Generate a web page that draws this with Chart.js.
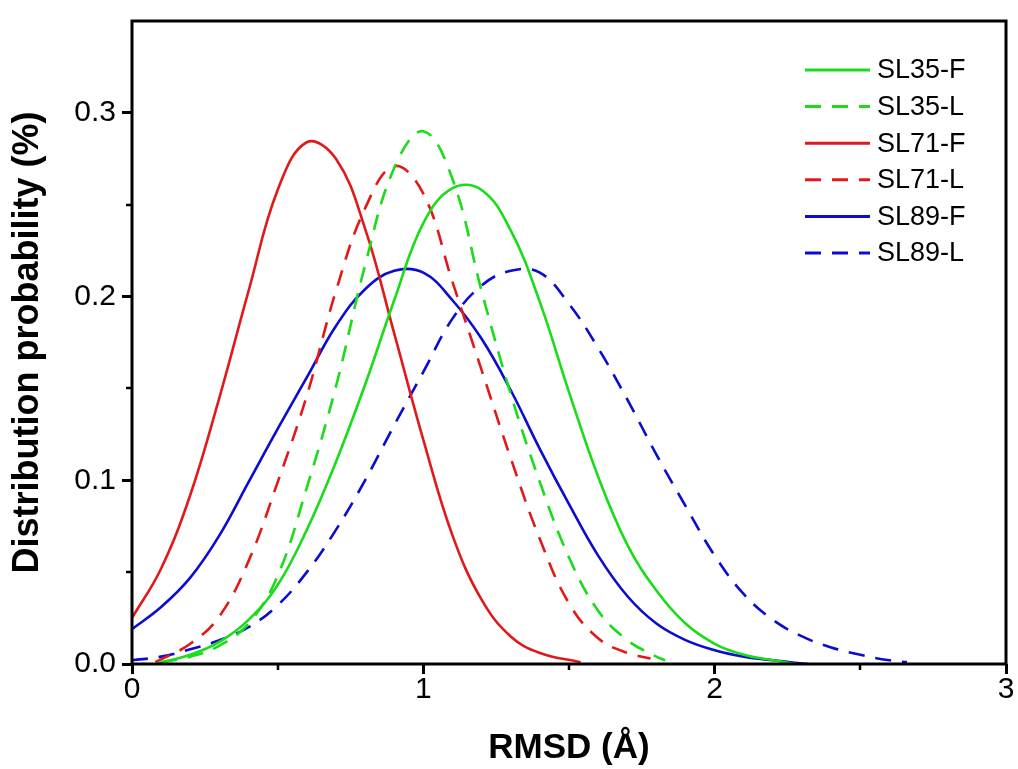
<!DOCTYPE html>
<html>
<head>
<meta charset="utf-8">
<script src="https://cdn.jsdelivr.net/npm/chart.js@4.4.0/dist/chart.umd.min.js"></script>
<style>
  html, body { margin: 0; padding: 0; background: #fff; }
  canvas { display: block; }
</style>
</head>
<body>
<canvas id="rmsdChart" width="1018" height="769"></canvas>
<script>
// values: RMSD (Å) -> distribution probability
const sl35F_x = [0.08, 0.2, 0.3, 0.4, 0.5, 0.6, 0.7, 0.8, 0.9, 1.0, 1.1, 1.2, 1.3, 1.4, 1.5, 1.6, 1.7, 1.8, 1.9, 2.0, 2.1, 2.2, 2.28];
const sl35F_y = [0.0, 0.005, 0.012, 0.024, 0.043, 0.073, 0.11, 0.152, 0.198, 0.24, 0.259, 0.258, 0.236, 0.197, 0.148, 0.102, 0.065, 0.04, 0.022, 0.011, 0.005, 0.002, 0.0];

const sl35L_x = [0.1, 0.2, 0.3, 0.4, 0.5, 0.6, 0.7, 0.8, 0.9, 1.0, 1.1, 1.2, 1.3, 1.4, 1.5, 1.6, 1.7, 1.8, 1.83];
const sl35L_y = [0.001, 0.004, 0.01, 0.022, 0.048, 0.096, 0.151, 0.217, 0.27, 0.29, 0.264, 0.203, 0.147, 0.099, 0.058, 0.029, 0.013, 0.004, 0.002];

const sl71F_x = [0, 0.1, 0.2, 0.3, 0.4, 0.5, 0.6, 0.7, 0.8, 0.9, 1.0, 1.1, 1.2, 1.3, 1.4, 1.54];
const sl71F_y = [0.025, 0.052, 0.092, 0.145, 0.203, 0.258, 0.284, 0.275, 0.237, 0.18, 0.122, 0.07, 0.035, 0.015, 0.006, 0.001];

const sl71L_x = [0.08, 0.2, 0.3, 0.4, 0.5, 0.6, 0.7, 0.8, 0.9, 1.0, 1.1, 1.2, 1.3, 1.4, 1.5, 1.6, 1.7, 1.78];
const sl71L_y = [0.001, 0.011, 0.026, 0.056, 0.099, 0.146, 0.203, 0.248, 0.271, 0.256, 0.208, 0.16, 0.112, 0.068, 0.033, 0.014, 0.006, 0.003];

const sl89F_x = [0, 0.1, 0.2, 0.3, 0.4, 0.5, 0.6, 0.7, 0.8, 0.9, 1.0, 1.1, 1.2, 1.3, 1.4, 1.5, 1.6, 1.7, 1.8, 1.9, 2.0, 2.1, 2.2, 2.32];
const sl89F_y = [0.019, 0.031, 0.047, 0.07, 0.099, 0.128, 0.156, 0.184, 0.204, 0.214, 0.213, 0.198, 0.177, 0.149, 0.117, 0.087, 0.059, 0.037, 0.022, 0.013, 0.0075, 0.004, 0.002, 0.0];

const sl89L_x = [0, 0.1, 0.2, 0.3, 0.4, 0.5, 0.6, 0.7, 0.8, 0.9, 1.0, 1.1, 1.2, 1.3, 1.4, 1.5, 1.6, 1.7, 1.8, 1.9, 2.0, 2.1, 2.2, 2.3, 2.4, 2.5, 2.6, 2.66];
const sl89L_y = [0.002, 0.004, 0.008, 0.013, 0.02, 0.032, 0.05, 0.073, 0.1, 0.13, 0.159, 0.188, 0.206, 0.214, 0.213, 0.196, 0.172, 0.144, 0.114, 0.086, 0.059, 0.038, 0.024, 0.015, 0.009, 0.005, 0.002, 0.001];

const xTicks = [0, 1, 2, 3];
const xMinor = [0.5, 1.5, 2.5];
const yTicks = [0, 0.1, 0.2, 0.3];
const yMinor = [0.05, 0.15, 0.25];

const GREEN = '#1adc1a';
const RED = '#e01a1a';
const BLUE = '#0c0cd0';
const DASH = [16, 11];
const FONT = "'Liberation Sans', Arial, sans-serif";

function toPoints(xs, ys) {
    return xs.map((x, i) => ({ x: x, y: ys[i] }));
}

function makeSeries(label, xs, ys, color, dashed) {
    return {
        label: label,
        data: toPoints(xs, ys),
        borderColor: color,
        backgroundColor: color,
        borderWidth: 2.6,
        borderDash: dashed ? DASH : [],
        pointRadius: 0,
        fill: false,
        tension: 0.4
    };
}

// box around the plot, minor ticks and the legend inside the plot
const framePlugin = {
    id: 'frame',
    afterDatasetsDraw(chart) {
        const { ctx, chartArea, scales } = chart;
        ctx.save();
        ctx.strokeStyle = '#000';
        ctx.lineWidth = 3;
        ctx.strokeRect(chartArea.left, chartArea.top, chartArea.right - chartArea.left, chartArea.bottom - chartArea.top);

        ctx.lineWidth = 2.5;
        ctx.beginPath();
        yMinor.forEach(v => {
            const py = Math.round(scales.y.getPixelForValue(v));
            ctx.moveTo(chartArea.left - 6, py);
            ctx.lineTo(chartArea.left, py);
        });
        xMinor.forEach(v => {
            const px = Math.round(scales.x.getPixelForValue(v));
            ctx.moveTo(px, chartArea.bottom);
            ctx.lineTo(px, chartArea.bottom + 6);
        });
        ctx.stroke();

        // legend
        ctx.font = '27px ' + FONT;
        ctx.textBaseline = 'middle';
        ctx.textAlign = 'left';
        chart.data.datasets.forEach((ds, i) => {
            const y = 70 + i * 36.6;
            ctx.strokeStyle = ds.borderColor;
            ctx.lineWidth = 3;
            ctx.setLineDash(ds.borderDash.length ? DASH : []);
            ctx.beginPath();
            ctx.moveTo(805, y);
            ctx.lineTo(870, y);
            ctx.stroke();
            ctx.setLineDash([]);
            ctx.fillStyle = '#000';
            ctx.fillText(ds.label, 877, y + 1);
        });
        ctx.restore();
    }
};

const ctx = document.getElementById('rmsdChart').getContext('2d');
new Chart(ctx, {
    type: 'line',
    data: {
        datasets: [
            makeSeries('SL35-F', sl35F_x, sl35F_y, GREEN, false),
            makeSeries('SL35-L', sl35L_x, sl35L_y, GREEN, true),
            makeSeries('SL71-F', sl71F_x, sl71F_y, RED, false),
            makeSeries('SL71-L', sl71L_x, sl71L_y, RED, true),
            makeSeries('SL89-F', sl89F_x, sl89F_y, BLUE, false),
            makeSeries('SL89-L', sl89L_x, sl89L_y, BLUE, true)
        ]
    },
    options: {
        responsive: false,
        animation: false,
        layout: { padding: { left: 0, top: 15, right: 12, bottom: 0 } },
        plugins: {
            legend: { display: false },
            tooltip: { enabled: false }
        },
        scales: {
            x: {
                type: 'linear',
                min: 0,
                max: 3,
                afterBuildTicks: axis => { axis.ticks = xTicks.map(v => ({ value: v })); },
                afterFit: axis => { axis.height = 105; },
                border: { display: false },
                grid: { drawOnChartArea: false, drawTicks: true, tickLength: 10, tickWidth: 3, tickColor: '#000' },
                ticks: {
                    color: '#000',
                    padding: 1,
                    maxRotation: 0,
                    font: { family: FONT, size: 30, lineHeight: 1 },
                    callback: v => String(v)
                },
                title: {
                    display: true,
                    text: 'RMSD (Å)',
                    color: '#000',
                    padding: { top: 0, bottom: 3 },
                    font: { family: FONT, size: 35, weight: 'bold', lineHeight: 1 }
                }
            },
            y: {
                type: 'linear',
                min: 0,
                max: 0.35,
                afterBuildTicks: axis => { axis.ticks = yTicks.map(v => ({ value: v })); },
                afterFit: axis => { axis.width = 132; },
                border: { display: false },
                grid: { drawOnChartArea: false, drawTicks: true, tickLength: 10, tickWidth: 3, tickColor: '#000' },
                ticks: {
                    color: '#000',
                    padding: 6,
                    font: { family: FONT, size: 30, lineHeight: 1 },
                    callback: v => v.toFixed(1)
                },
                title: {
                    display: true,
                    text: 'Distribution probability (%)',
                    color: '#000',
                    padding: { top: 10, bottom: 0 },
                    font: { family: FONT, size: 36, weight: 'bold', lineHeight: 1 }
                }
            }
        }
    },
    plugins: [framePlugin]
});
</script>
</body>
</html>
